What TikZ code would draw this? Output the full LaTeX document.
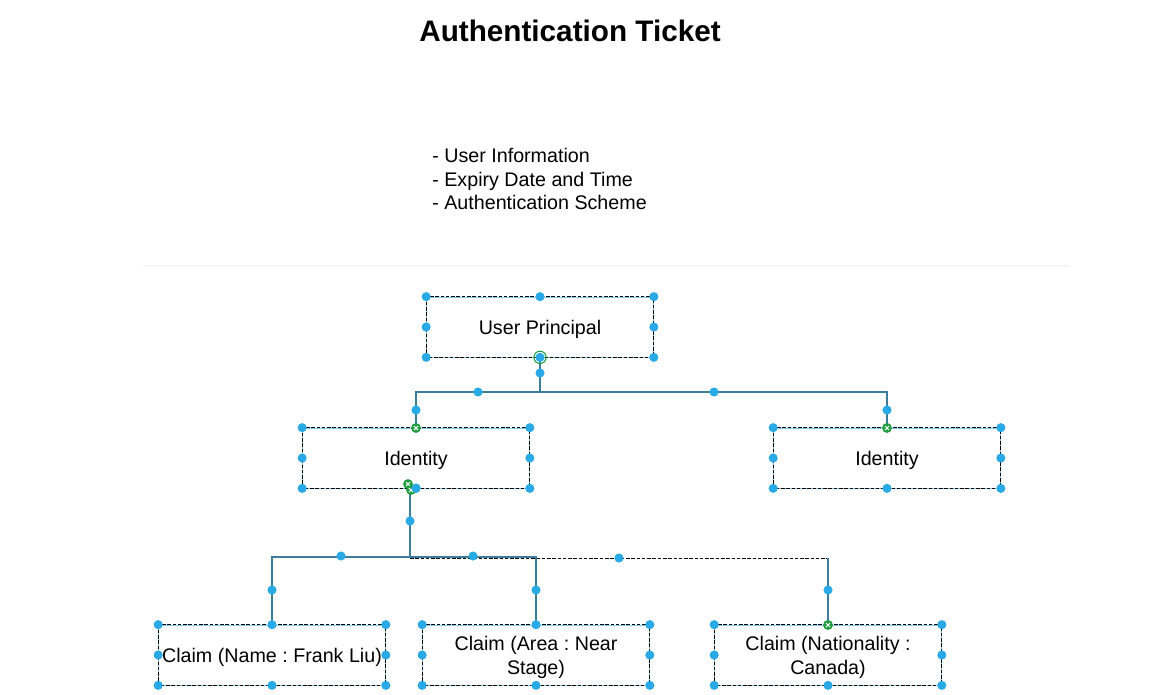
\documentclass[tikz,border=0pt]{standalone}
\usepackage{fontspec}
\setmainfont{Liberation Sans}
\usetikzlibrary{positioning}
\definecolor{handleblue}{HTML}{29A9E6}
\definecolor{connblue}{HTML}{3E7C9C}
\definecolor{markgreen}{HTML}{1E9E3C}
\frenchspacing

\begin{document}
\begin{tikzpicture}[x=0.02cm, y=-0.02cm,
	box/.style={draw=handleblue!60, minimum width=4.54cm, minimum height=1.2cm, inner sep=0pt,
		align=center, text depth=0pt, font=\fontsize{11.2}{13.6}\selectfont},
	conn/.style={connblue, line width=0.9pt},
	handle/.style={fill=handleblue},
	greenmark/.style={fill=markgreen}]
			\useasboundingbox (0,0) rectangle (1175,694);
			\node[font=\fontsize{16.9}{20}\selectfont\bfseries] (title) at (570,31) {Authentication Ticket};
			\node[anchor=west, align=left, inner sep=0pt, font=\fontsize{11.2}{13.6}\selectfont] (info) at (432,179)
				{- User Information\\- Expiry Date and Time\\- Authentication Scheme};
			\draw[black!4, line width=1pt] (143,266) -- (1070,266);
			% boxes
			\node[box] (up) at (540,327) {User Principal};
			\node[box] (id1) at (416,458) {Identity};
			\node[box] (id2) at (887,458) {Identity};
			\node[box] (c1) at (272,655) {Claim (Name : Frank Liu)};
			\node[box] (c2) at (536,655) {Claim (Area : Near\\Stage)};
			\node[box] (c3) at (828,655) {Claim (Nationality :\\Canada)};
			\foreach \n in {up,id1,id2,c1,c2,c3}
				\draw[black, dash pattern=on 2pt off 1pt, line width=0.4pt] (\n.north west) rectangle (\n.south east);
			% connectors from user principal
			\coordinate (upbar) at (540,392);
			\draw[conn] (up.south) -- (upbar) -| (id1.north);
			\draw[conn] (upbar) -| (id2.north);
			% connectors from identity
			\coordinate (id1b) at (410,488);
			\coordinate (split) at (410,557);
			\draw[black, dash pattern=on 2pt off 1pt, line width=0.4pt] (410,558) -- (828,558);
			\draw[conn] (id1b) -- (split) -| (c1.north);
			\draw[conn] (split) -| (c2.north);
			\draw[conn] (828,558) -- (c3.north);
			% handles
			\foreach \n in {up,id1,id2,c1,c2,c3}
				\foreach \a in {north west,north,north east,east,south east,south,south west,west}
					\fill[handle] (\n.\a) circle (2.6pt);
			\foreach \p in {(540,373),(478,392),(714,392),(416,410),(887,410),(410,521),(341,556),(272,590),(473,556),(536,590),(619,558),(828,590)}
				\fill[handle] \p circle (2.6pt);
			% green markers
			\foreach \p in {(416,428),(887,428),(828,625),(408,484),(411,490)} {
				\fill[greenmark] \p circle (2.8pt);
				\draw[white, line width=0.6pt] \p ++(-1.2pt,-1.2pt) -- ++(2.4pt,2.4pt) \p ++(-1.2pt,1.2pt) -- ++(2.4pt,-2.4pt);
			}
			\fill[handle] (416,488) circle (2.6pt);
			\draw[markgreen, line width=0.6pt] (up.south) circle (3.5pt);
		\end{tikzpicture}
\end{document}
